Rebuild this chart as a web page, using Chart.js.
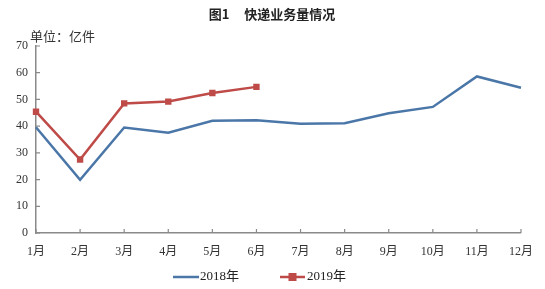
<!DOCTYPE html>
<html>
<head>
<meta charset="utf-8">
<script src="https://cdn.jsdelivr.net/npm/chart.js@4"></script>
<style>
  html, body { margin: 0; padding: 0; background: #fff; }
  #wrap { width: 545px; height: 289px; position: relative; }
</style>
</head>
<body>
<div id="wrap"><canvas id="chart" width="545" height="289"></canvas></div>
<script>
// 월별 라벨과 시리즈 값 (亿件)
const months = ['1月', '2月', '3月', '4月', '5月', '6月', '7月', '8月', '9月', '10月', '11月', '12月'];
const values2018 = [39.6, 19.9, 39.5, 37.5, 42.0, 42.2, 40.9, 41.1, 44.8, 47.2, 58.6, 54.4];
const values2019 = [45.4, 27.5, 48.5, 49.2, 52.4, 54.7];
const yTicks = [0, 10, 20, 30, 40, 50, 60, 70];

const blue = '#4a76a8';
const red = '#be4b48';
const axisColor = '#8a8a8a';
const tickFont = { family: "'Liberation Serif', 'Noto Sans CJK SC'", size: 12 };

// 제목, 단위, 안쪽 눈금, 범례를 그리는 플러그인
const decor = {
    id: 'decor',
    afterDraw(chart) {
        const ctx = chart.ctx;
        const area = chart.chartArea;
        const xs = chart.scales.x;
        const ys = chart.scales.y;
        ctx.save();

        // 제목
        ctx.fillStyle = '#222';
        ctx.font = "bold 13px 'Noto Sans CJK SC'";
        ctx.textAlign = 'center';
        ctx.textBaseline = 'middle';
        ctx.fillText('图1     快递业务量情况', 272, 14);

        // 단위
        ctx.font = "13px 'Noto Sans CJK SC'";
        ctx.textAlign = 'left';
        ctx.fillStyle = '#333';
        ctx.fillText('单位：亿件', 30, 36);

        // 안쪽 눈금
        ctx.strokeStyle = axisColor;
        ctx.lineWidth = 1.2;
        ctx.beginPath();
        months.forEach((m, i) => {
            const x = xs.getPixelForValue(i);
            ctx.moveTo(x, area.bottom);
            ctx.lineTo(x, area.bottom - 4);
        });
        yTicks.forEach(v => {
            const y = ys.getPixelForValue(v);
            ctx.moveTo(area.left, y);
            ctx.lineTo(area.left + 4, y);
        });
        ctx.stroke();

        // 범례
        const ly = 277;
        ctx.font = "13px 'Liberation Serif', 'Noto Sans CJK SC'";
        ctx.textBaseline = 'middle';
        ctx.lineWidth = 2.5;
        ctx.strokeStyle = blue;
        ctx.beginPath();
        ctx.moveTo(173, ly);
        ctx.lineTo(199, ly);
        ctx.stroke();
        ctx.fillStyle = '#222';
        ctx.fillText('2018年', 200, ly);

        ctx.strokeStyle = red;
        ctx.beginPath();
        ctx.moveTo(280, ly);
        ctx.lineTo(305, ly);
        ctx.stroke();
        ctx.fillStyle = red;
        ctx.fillRect(288.5, ly - 4, 8, 8);
        ctx.fillStyle = '#222';
        ctx.fillText('2019年', 307, ly);

        ctx.restore();
    }
};

const ctx = document.getElementById('chart').getContext('2d');
new Chart(ctx, {
    type: 'line',
    data: {
        labels: months,
        datasets: [{
            label: '2018年',
            data: values2018,
            borderColor: blue,
            borderWidth: 2.5,
            pointRadius: 0,
            tension: 0
        }, {
            label: '2019年',
            data: values2019,
            borderColor: red,
            backgroundColor: red,
            borderWidth: 2.5,
            pointStyle: 'rect',
            pointRadius: 4.5,
            pointBorderWidth: 0,
            tension: 0
        }]
    },
    options: {
        responsive: false,
        animation: false,
        layout: { padding: { top: 46, right: 15, left: 0, bottom: 0 } },
        plugins: {
            legend: { display: false },
            title: { display: false },
            tooltip: { enabled: false }
        },
        scales: {
            x: {
                offset: false,
                grid: { display: false, drawTicks: false },
                border: { display: true, color: axisColor, width: 1.5 },
                ticks: { font: tickFont, color: '#333', padding: 12, maxRotation: 0, autoSkip: false },
                afterFit(scale) { scale.height = 56; }
            },
            y: {
                min: 0,
                max: 70,
                grid: { display: false, drawTicks: false },
                border: { display: true, color: axisColor, width: 1.5 },
                ticks: { stepSize: 10, font: tickFont, color: '#333', padding: 8 },
                afterFit(scale) { scale.width = 36; }
            }
        }
    },
    plugins: [decor]
});
</script>
</body>
</html>
